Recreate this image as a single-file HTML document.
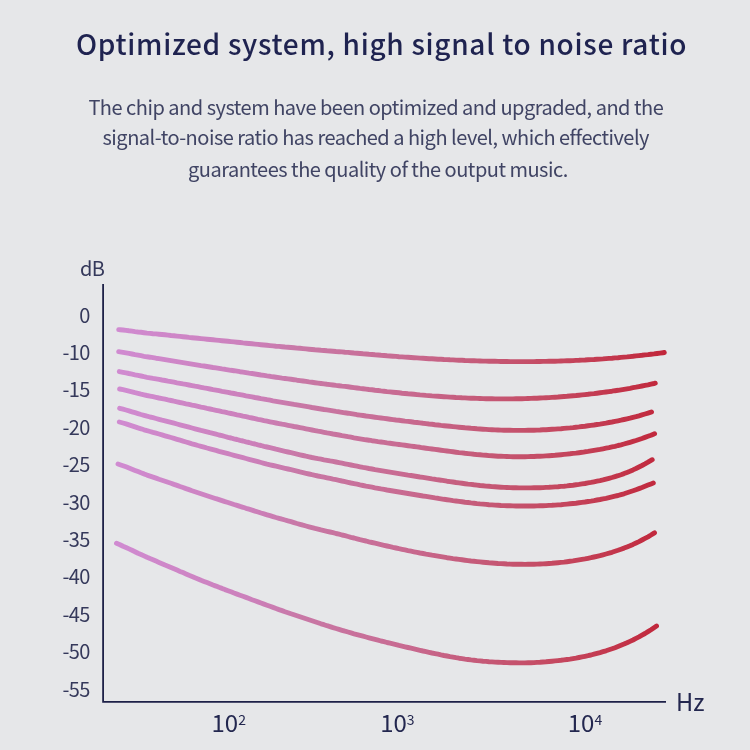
<!DOCTYPE html>
<html><head><meta charset="utf-8"><style>
html,body{margin:0;padding:0;width:750px;height:750px;overflow:hidden;background:#e6e7e9;}
svg{display:block;}
text{font-family:"Noto Sans CJK SC", "Liberation Sans", sans-serif;}
</style></head><body>
<svg width="750" height="750" viewBox="0 0 750 750">
<rect width="750" height="750" fill="#e6e7e9"/>
<text x="76" y="55" font-size="28" font-weight="500" letter-spacing="0.7" fill="#1f2350">Optimized system, high signal to noise ratio</text>
<g font-size="20" fill="#404464" letter-spacing="-0.5">
<text x="88.4" y="114.7">The chip and system have been optimized and upgraded, and the</text>
<text x="102.5" y="145.2">signal-to-noise ratio has reached a high level, which effectively</text>
<text x="188" y="177.1">guarantees the quality of the output music.</text>
</g>
<defs><linearGradient id="g" gradientUnits="userSpaceOnUse" x1="116" y1="0" x2="666" y2="0"><stop offset="0" stop-color="#d08bd1"/><stop offset="0.2436" stop-color="#cc80bb"/><stop offset="0.3345" stop-color="#c878a6"/><stop offset="0.5164" stop-color="#c86b92"/><stop offset="0.6618" stop-color="#c55a78"/><stop offset="0.7891" stop-color="#c54a62"/><stop offset="1" stop-color="#c1263a"/></linearGradient></defs>
<g fill="none" stroke="url(#g)" stroke-width="4.9" stroke-linecap="round" stroke-linejoin="round">
<path d="M118.7 329.6 L120.0 329.7 L123.0 330.0 L126.0 330.4 L129.0 330.8 L132.0 331.1 L135.0 331.6 L138.0 332.0 L141.0 332.3 L144.0 332.7 L147.0 333.1 L150.0 333.4 L153.0 333.7 L156.0 333.9 L159.0 334.2 L162.0 334.5 L165.0 334.8 L168.0 335.1 L171.0 335.5 L174.0 335.8 L177.0 336.1 L180.0 336.4 L183.0 336.7 L186.0 337.0 L189.0 337.4 L192.0 337.7 L195.0 338.0 L198.0 338.3 L201.0 338.6 L204.0 338.9 L207.0 339.2 L210.0 339.5 L213.0 339.8 L216.0 340.1 L219.0 340.4 L222.0 340.7 L225.0 341.0 L228.0 341.3 L231.0 341.6 L234.0 341.9 L237.0 342.2 L240.0 342.5 L243.0 342.9 L246.0 343.2 L249.0 343.5 L252.0 343.8 L255.0 344.1 L258.0 344.4 L261.0 344.7 L264.0 345.0 L267.0 345.3 L270.0 345.6 L273.0 345.9 L276.0 346.2 L279.0 346.4 L282.0 346.7 L285.0 347.0 L288.0 347.2 L291.0 347.5 L294.0 347.8 L297.0 348.1 L300.0 348.3 L303.0 348.6 L306.0 348.9 L309.0 349.2 L312.0 349.5 L315.0 349.8 L318.0 350.0 L321.0 350.3 L324.0 350.5 L327.0 350.8 L330.0 351.0 L333.0 351.2 L336.0 351.5 L339.0 351.7 L342.0 351.9 L345.0 352.2 L348.0 352.4 L351.0 352.7 L354.0 353.0 L357.0 353.2 L360.0 353.5 L363.0 353.8 L366.0 354.0 L369.0 354.3 L372.0 354.5 L375.0 354.8 L378.0 355.0 L381.0 355.3 L384.0 355.5 L387.0 355.8 L390.0 356.0 L393.0 356.2 L396.0 356.4 L399.0 356.7 L402.0 356.9 L405.0 357.1 L408.0 357.3 L411.0 357.5 L414.0 357.7 L417.0 357.9 L420.0 358.1 L423.0 358.3 L426.0 358.5 L429.0 358.7 L432.0 358.8 L435.0 359.0 L438.0 359.2 L441.0 359.3 L444.0 359.5 L447.0 359.6 L450.0 359.8 L453.0 359.9 L456.0 360.1 L459.0 360.2 L462.0 360.3 L465.0 360.5 L468.0 360.6 L471.0 360.7 L474.0 360.8 L477.0 360.9 L480.0 361.0 L483.0 361.1 L486.0 361.1 L489.0 361.2 L492.0 361.3 L495.0 361.3 L498.0 361.4 L501.0 361.5 L504.0 361.5 L507.0 361.5 L510.0 361.6 L513.0 361.6 L516.0 361.6 L519.0 361.6 L522.0 361.6 L525.0 361.6 L528.0 361.6 L531.0 361.6 L534.0 361.6 L537.0 361.5 L540.0 361.5 L543.0 361.4 L546.0 361.4 L549.0 361.3 L552.0 361.3 L555.0 361.2 L558.0 361.1 L561.0 361.0 L564.0 360.9 L567.0 360.8 L570.0 360.7 L573.0 360.6 L576.0 360.4 L579.0 360.3 L582.0 360.1 L585.0 360.0 L588.0 359.8 L591.0 359.6 L594.0 359.5 L597.0 359.3 L600.0 359.1 L603.0 358.9 L606.0 358.6 L609.0 358.4 L612.0 358.2 L615.0 357.9 L618.0 357.7 L621.0 357.4 L624.0 357.1 L627.0 356.9 L630.0 356.6 L633.0 356.3 L636.0 355.9 L639.0 355.6 L642.0 355.3 L645.0 354.9 L648.0 354.6 L651.0 354.2 L654.0 353.9 L657.0 353.5 L660.0 353.1 L663.0 352.7 L664.3 352.5"/><path d="M118.7 351.7 L120.0 351.9 L123.0 352.4 L126.0 352.9 L129.0 353.4 L132.0 354.0 L135.0 354.6 L138.0 355.1 L141.0 355.7 L144.0 356.3 L147.0 356.8 L150.0 357.2 L153.0 357.7 L156.0 358.2 L159.0 358.6 L162.0 359.1 L165.0 359.6 L168.0 360.1 L171.0 360.6 L174.0 361.1 L177.0 361.6 L180.0 362.1 L183.0 362.6 L186.0 363.1 L189.0 363.6 L192.0 364.1 L195.0 364.6 L198.0 365.1 L201.0 365.6 L204.0 366.0 L207.0 366.5 L210.0 367.0 L213.0 367.5 L216.0 367.9 L219.0 368.4 L222.0 368.9 L225.0 369.3 L228.0 369.8 L231.0 370.3 L234.0 370.7 L237.0 371.2 L240.0 371.7 L243.0 372.1 L246.0 372.6 L249.0 373.1 L252.0 373.5 L255.0 374.0 L258.0 374.5 L261.0 375.0 L264.0 375.4 L267.0 375.9 L270.0 376.3 L273.0 376.8 L276.0 377.2 L279.0 377.6 L282.0 378.1 L285.0 378.5 L288.0 378.9 L291.0 379.3 L294.0 379.7 L297.0 380.2 L300.0 380.6 L303.0 381.0 L306.0 381.4 L309.0 381.9 L312.0 382.3 L315.0 382.7 L318.0 383.1 L321.0 383.5 L324.0 383.9 L327.0 384.3 L330.0 384.6 L333.0 385.0 L336.0 385.4 L339.0 385.7 L342.0 386.1 L345.0 386.4 L348.0 386.8 L351.0 387.2 L354.0 387.6 L357.0 388.0 L360.0 388.4 L363.0 388.7 L366.0 389.1 L369.0 389.5 L372.0 389.8 L375.0 390.2 L378.0 390.5 L381.0 390.9 L384.0 391.2 L387.0 391.6 L390.0 391.9 L393.0 392.2 L396.0 392.5 L399.0 392.8 L402.0 393.2 L405.0 393.5 L408.0 393.8 L411.0 394.0 L414.0 394.3 L417.0 394.6 L420.0 394.9 L423.0 395.1 L426.0 395.4 L429.0 395.6 L432.0 395.9 L435.0 396.1 L438.0 396.3 L441.0 396.5 L444.0 396.7 L447.0 396.9 L450.0 397.1 L453.0 397.3 L456.0 397.5 L459.0 397.6 L462.0 397.8 L465.0 397.9 L468.0 398.1 L471.0 398.2 L474.0 398.3 L477.0 398.4 L480.0 398.5 L483.0 398.6 L486.0 398.7 L489.0 398.8 L492.0 398.8 L495.0 398.9 L498.0 398.9 L501.0 398.9 L504.0 398.9 L507.0 398.9 L510.0 398.9 L513.0 398.9 L516.0 398.8 L519.0 398.8 L522.0 398.7 L525.0 398.6 L528.0 398.5 L531.0 398.4 L534.0 398.3 L537.0 398.2 L540.0 398.0 L543.0 397.9 L546.0 397.7 L549.0 397.6 L552.0 397.4 L555.0 397.2 L558.0 397.0 L561.0 396.7 L564.0 396.5 L567.0 396.3 L570.0 396.0 L573.0 395.7 L576.0 395.5 L579.0 395.2 L582.0 394.9 L585.0 394.6 L588.0 394.3 L591.0 393.9 L594.0 393.6 L597.0 393.2 L600.0 392.8 L603.0 392.4 L606.0 392.0 L609.0 391.6 L612.0 391.2 L615.0 390.7 L618.0 390.3 L621.0 389.8 L624.0 389.3 L627.0 388.8 L630.0 388.3 L633.0 387.7 L636.0 387.2 L639.0 386.6 L642.0 386.0 L645.0 385.4 L648.0 384.8 L651.0 384.1 L654.0 383.5 L655.3 383.2"/><path d="M119.3 371.6 L123.0 372.3 L126.0 372.8 L129.0 373.5 L132.0 374.1 L135.0 374.8 L138.0 375.4 L141.0 376.0 L144.0 376.7 L147.0 377.3 L150.0 377.8 L153.0 378.4 L156.0 378.9 L159.0 379.4 L162.0 380.0 L165.0 380.5 L168.0 381.1 L171.0 381.6 L174.0 382.2 L177.0 382.8 L180.0 383.3 L183.0 383.9 L186.0 384.4 L189.0 385.0 L192.0 385.6 L195.0 386.2 L198.0 386.7 L201.0 387.3 L204.0 387.9 L207.0 388.4 L210.0 389.0 L213.0 389.6 L216.0 390.1 L219.0 390.7 L222.0 391.3 L225.0 391.8 L228.0 392.4 L231.0 393.0 L234.0 393.5 L237.0 394.1 L240.0 394.6 L243.0 395.2 L246.0 395.8 L249.0 396.3 L252.0 396.9 L255.0 397.5 L258.0 398.0 L261.0 398.6 L264.0 399.1 L267.0 399.7 L270.0 400.2 L273.0 400.8 L276.0 401.3 L279.0 401.8 L282.0 402.3 L285.0 402.8 L288.0 403.3 L291.0 403.8 L294.0 404.4 L297.0 404.9 L300.0 405.4 L303.0 405.9 L306.0 406.4 L309.0 406.9 L312.0 407.5 L315.0 408.0 L318.0 408.5 L321.0 409.0 L324.0 409.5 L327.0 409.9 L330.0 410.4 L333.0 410.9 L336.0 411.4 L339.0 411.8 L342.0 412.3 L345.0 412.8 L348.0 413.2 L351.0 413.7 L354.0 414.2 L357.0 414.7 L360.0 415.1 L363.0 415.5 L366.0 416.0 L369.0 416.4 L372.0 416.8 L375.0 417.2 L378.0 417.6 L381.0 418.0 L384.0 418.4 L387.0 418.8 L390.0 419.2 L393.0 419.6 L396.0 420.0 L399.0 420.3 L402.0 420.7 L405.0 421.1 L408.0 421.4 L411.0 421.8 L414.0 422.2 L417.0 422.5 L420.0 422.9 L423.0 423.3 L426.0 423.6 L429.0 424.0 L432.0 424.3 L435.0 424.7 L438.0 425.0 L441.0 425.4 L444.0 425.7 L447.0 426.0 L450.0 426.3 L453.0 426.6 L456.0 426.9 L459.0 427.2 L462.0 427.5 L465.0 427.8 L468.0 428.0 L471.0 428.3 L474.0 428.5 L477.0 428.8 L480.0 429.0 L483.0 429.2 L486.0 429.4 L489.0 429.6 L492.0 429.7 L495.0 429.9 L498.0 430.0 L501.0 430.1 L504.0 430.2 L507.0 430.3 L510.0 430.3 L513.0 430.4 L516.0 430.4 L519.0 430.4 L522.0 430.4 L525.0 430.4 L528.0 430.3 L531.0 430.3 L534.0 430.2 L537.0 430.1 L540.0 430.0 L543.0 429.8 L546.0 429.7 L549.0 429.5 L552.0 429.3 L555.0 429.1 L558.0 428.9 L561.0 428.7 L564.0 428.4 L567.0 428.1 L570.0 427.9 L573.0 427.6 L576.0 427.2 L579.0 426.9 L582.0 426.5 L585.0 426.2 L588.0 425.8 L591.0 425.4 L594.0 425.0 L597.0 424.5 L600.0 424.1 L603.0 423.6 L606.0 423.1 L609.0 422.5 L612.0 422.0 L615.0 421.4 L618.0 420.8 L621.0 420.2 L624.0 419.5 L627.0 418.8 L630.0 418.1 L633.0 417.3 L636.0 416.6 L639.0 415.8 L642.0 414.9 L645.0 414.0 L648.0 413.1 L651.0 412.2 L651.5 412.0"/><path d="M119.6 389.0 L123.0 389.7 L126.0 390.4 L129.0 391.1 L132.0 391.8 L135.0 392.6 L138.0 393.3 L141.0 394.1 L144.0 394.8 L147.0 395.5 L150.0 396.1 L153.0 396.7 L156.0 397.3 L159.0 398.0 L162.0 398.6 L165.0 399.2 L168.0 399.9 L171.0 400.5 L174.0 401.2 L177.0 401.8 L180.0 402.5 L183.0 403.1 L186.0 403.8 L189.0 404.4 L192.0 405.1 L195.0 405.7 L198.0 406.4 L201.0 407.1 L204.0 407.7 L207.0 408.4 L210.0 409.0 L213.0 409.7 L216.0 410.3 L219.0 410.9 L222.0 411.6 L225.0 412.2 L228.0 412.9 L231.0 413.5 L234.0 414.1 L237.0 414.8 L240.0 415.4 L243.0 416.1 L246.0 416.7 L249.0 417.4 L252.0 418.0 L255.0 418.6 L258.0 419.3 L261.0 419.9 L264.0 420.6 L267.0 421.2 L270.0 421.8 L273.0 422.4 L276.0 423.0 L279.0 423.6 L282.0 424.2 L285.0 424.7 L288.0 425.3 L291.0 425.9 L294.0 426.5 L297.0 427.0 L300.0 427.6 L303.0 428.2 L306.0 428.8 L309.0 429.4 L312.0 430.0 L315.0 430.6 L318.0 431.2 L321.0 431.7 L324.0 432.3 L327.0 432.9 L330.0 433.4 L333.0 434.0 L336.0 434.5 L339.0 435.0 L342.0 435.6 L345.0 436.1 L348.0 436.7 L351.0 437.2 L354.0 437.8 L357.0 438.3 L360.0 438.8 L363.0 439.3 L366.0 439.8 L369.0 440.2 L372.0 440.7 L375.0 441.1 L378.0 441.6 L381.0 442.0 L384.0 442.4 L387.0 442.9 L390.0 443.3 L393.0 443.7 L396.0 444.1 L399.0 444.5 L402.0 444.9 L405.0 445.3 L408.0 445.7 L411.0 446.1 L414.0 446.5 L417.0 446.9 L420.0 447.3 L423.0 447.8 L426.0 448.2 L429.0 448.6 L432.0 449.0 L435.0 449.4 L438.0 449.8 L441.0 450.2 L444.0 450.6 L447.0 451.0 L450.0 451.4 L453.0 451.8 L456.0 452.2 L459.0 452.6 L462.0 452.9 L465.0 453.3 L468.0 453.6 L471.0 453.9 L474.0 454.3 L477.0 454.6 L480.0 454.8 L483.0 455.1 L486.0 455.3 L489.0 455.6 L492.0 455.8 L495.0 456.0 L498.0 456.2 L501.0 456.3 L504.0 456.4 L507.0 456.5 L510.0 456.6 L513.0 456.7 L516.0 456.7 L519.0 456.7 L522.0 456.7 L525.0 456.7 L528.0 456.6 L531.0 456.5 L534.0 456.5 L537.0 456.3 L540.0 456.2 L543.0 456.1 L546.0 455.9 L549.0 455.7 L552.0 455.5 L555.0 455.3 L558.0 455.0 L561.0 454.7 L564.0 454.4 L567.0 454.1 L570.0 453.8 L573.0 453.4 L576.0 453.1 L579.0 452.7 L582.0 452.3 L585.0 451.8 L588.0 451.4 L591.0 450.9 L594.0 450.4 L597.0 449.9 L600.0 449.4 L603.0 448.8 L606.0 448.2 L609.0 447.6 L612.0 446.9 L615.0 446.3 L618.0 445.5 L621.0 444.8 L624.0 444.0 L627.0 443.2 L630.0 442.3 L633.0 441.4 L636.0 440.5 L639.0 439.5 L642.0 438.5 L645.0 437.4 L648.0 436.3 L651.0 435.2 L654.0 433.9 L654.6 433.7"/><path d="M119.6 408.3 L123.0 409.2 L126.0 410.0 L129.0 410.9 L132.0 411.8 L135.0 412.7 L138.0 413.6 L141.0 414.5 L144.0 415.3 L147.0 416.2 L150.0 417.0 L153.0 417.7 L156.0 418.5 L159.0 419.3 L162.0 420.1 L165.0 420.8 L168.0 421.6 L171.0 422.4 L174.0 423.2 L177.0 424.0 L180.0 424.8 L183.0 425.6 L186.0 426.4 L189.0 427.2 L192.0 428.0 L195.0 428.8 L198.0 429.6 L201.0 430.4 L204.0 431.1 L207.0 431.9 L210.0 432.7 L213.0 433.4 L216.0 434.2 L219.0 435.0 L222.0 435.7 L225.0 436.5 L228.0 437.3 L231.0 438.0 L234.0 438.8 L237.0 439.5 L240.0 440.3 L243.0 441.0 L246.0 441.8 L249.0 442.5 L252.0 443.3 L255.0 444.0 L258.0 444.8 L261.0 445.5 L264.0 446.3 L267.0 447.0 L270.0 447.7 L273.0 448.4 L276.0 449.2 L279.0 449.9 L282.0 450.6 L285.0 451.3 L288.0 452.0 L291.0 452.7 L294.0 453.4 L297.0 454.1 L300.0 454.8 L303.0 455.5 L306.0 456.2 L309.0 456.8 L312.0 457.5 L315.0 458.1 L318.0 458.7 L321.0 459.2 L324.0 459.8 L327.0 460.3 L330.0 460.9 L333.0 461.4 L336.0 462.0 L339.0 462.6 L342.0 463.2 L345.0 463.8 L348.0 464.4 L351.0 465.0 L354.0 465.6 L357.0 466.2 L360.0 466.8 L363.0 467.4 L366.0 467.9 L369.0 468.5 L372.0 469.0 L375.0 469.6 L378.0 470.1 L381.0 470.6 L384.0 471.1 L387.0 471.6 L390.0 472.1 L393.0 472.6 L396.0 473.1 L399.0 473.6 L402.0 474.1 L405.0 474.6 L408.0 475.1 L411.0 475.5 L414.0 476.0 L417.0 476.5 L420.0 477.0 L423.0 477.4 L426.0 477.9 L429.0 478.4 L432.0 478.9 L435.0 479.3 L438.0 479.8 L441.0 480.2 L444.0 480.7 L447.0 481.2 L450.0 481.6 L453.0 482.0 L456.0 482.5 L459.0 482.9 L462.0 483.3 L465.0 483.7 L468.0 484.1 L471.0 484.4 L474.0 484.8 L477.0 485.1 L480.0 485.5 L483.0 485.8 L486.0 486.1 L489.0 486.3 L492.0 486.6 L495.0 486.8 L498.0 487.0 L501.0 487.2 L504.0 487.4 L507.0 487.5 L510.0 487.6 L513.0 487.7 L516.0 487.8 L519.0 487.9 L522.0 487.9 L525.0 487.9 L528.0 487.9 L531.0 487.9 L534.0 487.8 L537.0 487.8 L540.0 487.7 L543.0 487.6 L546.0 487.4 L549.0 487.3 L552.0 487.1 L555.0 486.9 L558.0 486.7 L561.0 486.4 L564.0 486.2 L567.0 485.9 L570.0 485.5 L573.0 485.2 L576.0 484.8 L579.0 484.4 L582.0 483.9 L585.0 483.5 L588.0 482.9 L591.0 482.4 L594.0 481.8 L597.0 481.2 L600.0 480.6 L603.0 479.9 L606.0 479.1 L609.0 478.3 L612.0 477.5 L615.0 476.6 L618.0 475.7 L621.0 474.7 L624.0 473.6 L627.0 472.4 L630.0 471.2 L633.0 469.9 L636.0 468.5 L639.0 467.0 L642.0 465.5 L645.0 463.9 L648.0 462.2 L651.0 460.4 L652.2 459.7"/><path d="M119.3 422.0 L123.0 423.0 L126.0 423.9 L129.0 424.9 L132.0 425.9 L135.0 426.9 L138.0 427.9 L141.0 428.8 L144.0 429.8 L147.0 430.7 L150.0 431.5 L153.0 432.4 L156.0 433.2 L159.0 434.0 L162.0 434.9 L165.0 435.8 L168.0 436.7 L171.0 437.5 L174.0 438.4 L177.0 439.3 L180.0 440.2 L183.0 441.1 L186.0 442.0 L189.0 442.9 L192.0 443.8 L195.0 444.6 L198.0 445.5 L201.0 446.3 L204.0 447.1 L207.0 448.0 L210.0 448.8 L213.0 449.6 L216.0 450.4 L219.0 451.3 L222.0 452.1 L225.0 452.9 L228.0 453.7 L231.0 454.5 L234.0 455.3 L237.0 456.1 L240.0 456.9 L243.0 457.7 L246.0 458.5 L249.0 459.3 L252.0 460.1 L255.0 460.9 L258.0 461.7 L261.0 462.5 L264.0 463.3 L267.0 464.1 L270.0 464.8 L273.0 465.5 L276.0 466.2 L279.0 466.9 L282.0 467.6 L285.0 468.3 L288.0 469.0 L291.0 469.7 L294.0 470.4 L297.0 471.1 L300.0 471.9 L303.0 472.6 L306.0 473.3 L309.0 474.0 L312.0 474.7 L315.0 475.3 L318.0 476.0 L321.0 476.6 L324.0 477.2 L327.0 477.8 L330.0 478.4 L333.0 479.1 L336.0 479.7 L339.0 480.3 L342.0 481.0 L345.0 481.6 L348.0 482.3 L351.0 483.0 L354.0 483.6 L357.0 484.2 L360.0 484.9 L363.0 485.5 L366.0 486.1 L369.0 486.6 L372.0 487.2 L375.0 487.8 L378.0 488.3 L381.0 488.9 L384.0 489.4 L387.0 490.0 L390.0 490.5 L393.0 491.0 L396.0 491.5 L399.0 492.0 L402.0 492.5 L405.0 493.0 L408.0 493.5 L411.0 494.0 L414.0 494.5 L417.0 495.0 L420.0 495.5 L423.0 496.0 L426.0 496.4 L429.0 496.9 L432.0 497.4 L435.0 497.9 L438.0 498.3 L441.0 498.8 L444.0 499.3 L447.0 499.7 L450.0 500.1 L453.0 500.6 L456.0 501.0 L459.0 501.4 L462.0 501.8 L465.0 502.2 L468.0 502.5 L471.0 502.9 L474.0 503.2 L477.0 503.6 L480.0 503.9 L483.0 504.1 L486.0 504.4 L489.0 504.7 L492.0 504.9 L495.0 505.1 L498.0 505.3 L501.0 505.5 L504.0 505.6 L507.0 505.7 L510.0 505.8 L513.0 505.9 L516.0 506.0 L519.0 506.0 L522.0 506.0 L525.0 506.0 L528.0 506.0 L531.0 506.0 L534.0 506.0 L537.0 505.9 L540.0 505.8 L543.0 505.7 L546.0 505.6 L549.0 505.4 L552.0 505.3 L555.0 505.1 L558.0 504.9 L561.0 504.7 L564.0 504.4 L567.0 504.1 L570.0 503.8 L573.0 503.5 L576.0 503.2 L579.0 502.8 L582.0 502.4 L585.0 502.0 L588.0 501.5 L591.0 501.1 L594.0 500.6 L597.0 500.0 L600.0 499.5 L603.0 498.9 L606.0 498.3 L609.0 497.6 L612.0 496.9 L615.0 496.2 L618.0 495.5 L621.0 494.6 L624.0 493.8 L627.0 492.8 L630.0 491.8 L633.0 490.8 L636.0 489.7 L639.0 488.6 L642.0 487.5 L645.0 486.3 L648.0 485.1 L651.0 483.9 L653.3 483.0"/><path d="M118.0 464.0 L120.0 464.7 L123.0 465.7 L126.0 466.8 L129.0 468.0 L132.0 469.2 L135.0 470.4 L138.0 471.6 L141.0 472.8 L144.0 473.9 L147.0 475.1 L150.0 476.1 L153.0 477.1 L156.0 478.1 L159.0 479.2 L162.0 480.2 L165.0 481.2 L168.0 482.3 L171.0 483.3 L174.0 484.4 L177.0 485.4 L180.0 486.5 L183.0 487.5 L186.0 488.6 L189.0 489.6 L192.0 490.7 L195.0 491.7 L198.0 492.7 L201.0 493.7 L204.0 494.7 L207.0 495.7 L210.0 496.7 L213.0 497.7 L216.0 498.7 L219.0 499.6 L222.0 500.6 L225.0 501.6 L228.0 502.5 L231.0 503.5 L234.0 504.5 L237.0 505.4 L240.0 506.4 L243.0 507.3 L246.0 508.3 L249.0 509.2 L252.0 510.1 L255.0 511.1 L258.0 512.0 L261.0 513.0 L264.0 513.9 L267.0 514.8 L270.0 515.7 L273.0 516.6 L276.0 517.5 L279.0 518.3 L282.0 519.2 L285.0 520.0 L288.0 520.9 L291.0 521.7 L294.0 522.6 L297.0 523.5 L300.0 524.3 L303.0 525.2 L306.0 526.0 L309.0 526.8 L312.0 527.6 L315.0 528.4 L318.0 529.1 L321.0 529.9 L324.0 530.6 L327.0 531.3 L330.0 532.0 L333.0 532.7 L336.0 533.5 L339.0 534.2 L342.0 535.0 L345.0 535.7 L348.0 536.5 L351.0 537.3 L354.0 538.0 L357.0 538.8 L360.0 539.6 L363.0 540.3 L366.0 541.0 L369.0 541.8 L372.0 542.5 L375.0 543.2 L378.0 543.9 L381.0 544.6 L384.0 545.3 L387.0 546.0 L390.0 546.7 L393.0 547.4 L396.0 548.0 L399.0 548.7 L402.0 549.3 L405.0 549.9 L408.0 550.6 L411.0 551.2 L414.0 551.8 L417.0 552.4 L420.0 553.0 L423.0 553.5 L426.0 554.1 L429.0 554.6 L432.0 555.2 L435.0 555.7 L438.0 556.2 L441.0 556.7 L444.0 557.2 L447.0 557.7 L450.0 558.1 L453.0 558.6 L456.0 559.0 L459.0 559.4 L462.0 559.8 L465.0 560.2 L468.0 560.6 L471.0 561.0 L474.0 561.3 L477.0 561.6 L480.0 561.9 L483.0 562.2 L486.0 562.5 L489.0 562.8 L492.0 563.0 L495.0 563.2 L498.0 563.5 L501.0 563.6 L504.0 563.8 L507.0 564.0 L510.0 564.1 L513.0 564.2 L516.0 564.3 L519.0 564.3 L522.0 564.3 L525.0 564.4 L528.0 564.3 L531.0 564.3 L534.0 564.2 L537.0 564.1 L540.0 564.0 L543.0 563.9 L546.0 563.7 L549.0 563.5 L552.0 563.3 L555.0 563.0 L558.0 562.7 L561.0 562.4 L564.0 562.1 L567.0 561.7 L570.0 561.3 L573.0 560.9 L576.0 560.4 L579.0 559.9 L582.0 559.4 L585.0 558.9 L588.0 558.3 L591.0 557.7 L594.0 557.0 L597.0 556.3 L600.0 555.6 L603.0 554.8 L606.0 554.0 L609.0 553.2 L612.0 552.3 L615.0 551.3 L618.0 550.3 L621.0 549.2 L624.0 548.1 L627.0 546.9 L630.0 545.7 L633.0 544.4 L636.0 543.0 L639.0 541.6 L642.0 540.0 L645.0 538.4 L648.0 536.8 L651.0 535.0 L654.0 533.1 L654.5 532.8"/><path d="M116.5 543.3 L120.0 544.8 L123.0 546.2 L126.0 547.5 L129.0 548.9 L132.0 550.3 L135.0 551.7 L138.0 553.2 L141.0 554.5 L144.0 555.9 L147.0 557.3 L150.0 558.6 L153.0 559.8 L156.0 561.1 L159.0 562.4 L162.0 563.7 L165.0 565.0 L168.0 566.2 L171.0 567.5 L174.0 568.8 L177.0 570.1 L180.0 571.4 L183.0 572.6 L186.0 573.9 L189.0 575.2 L192.0 576.4 L195.0 577.7 L198.0 578.9 L201.0 580.2 L204.0 581.4 L207.0 582.6 L210.0 583.8 L213.0 585.0 L216.0 586.1 L219.0 587.3 L222.0 588.4 L225.0 589.6 L228.0 590.7 L231.0 591.8 L234.0 593.0 L237.0 594.1 L240.0 595.2 L243.0 596.3 L246.0 597.4 L249.0 598.5 L252.0 599.7 L255.0 600.8 L258.0 601.9 L261.0 603.0 L264.0 604.1 L267.0 605.2 L270.0 606.3 L273.0 607.4 L276.0 608.5 L279.0 609.6 L282.0 610.6 L285.0 611.7 L288.0 612.7 L291.0 613.8 L294.0 614.8 L297.0 615.8 L300.0 616.8 L303.0 617.8 L306.0 618.8 L309.0 619.8 L312.0 620.8 L315.0 621.8 L318.0 622.8 L321.0 623.8 L324.0 624.7 L327.0 625.7 L330.0 626.6 L333.0 627.6 L336.0 628.5 L339.0 629.4 L342.0 630.3 L345.0 631.2 L348.0 632.0 L351.0 632.9 L354.0 633.8 L357.0 634.6 L360.0 635.4 L363.0 636.2 L366.0 637.0 L369.0 637.8 L372.0 638.6 L375.0 639.4 L378.0 640.2 L381.0 641.0 L384.0 641.7 L387.0 642.5 L390.0 643.2 L393.0 643.9 L396.0 644.6 L399.0 645.4 L402.0 646.1 L405.0 646.8 L408.0 647.5 L411.0 648.2 L414.0 648.9 L417.0 649.6 L420.0 650.3 L423.0 651.0 L426.0 651.6 L429.0 652.3 L432.0 653.0 L435.0 653.6 L438.0 654.2 L441.0 654.9 L444.0 655.5 L447.0 656.0 L450.0 656.6 L453.0 657.1 L456.0 657.7 L459.0 658.2 L462.0 658.6 L465.0 659.1 L468.0 659.5 L471.0 659.9 L474.0 660.2 L477.0 660.6 L480.0 660.9 L483.0 661.2 L486.0 661.4 L489.0 661.7 L492.0 661.9 L495.0 662.1 L498.0 662.2 L501.0 662.4 L504.0 662.5 L507.0 662.6 L510.0 662.7 L513.0 662.8 L516.0 662.8 L519.0 662.9 L522.0 662.9 L525.0 662.9 L528.0 662.8 L531.0 662.7 L534.0 662.6 L537.0 662.4 L540.0 662.3 L543.0 662.0 L546.0 661.8 L549.0 661.5 L552.0 661.2 L555.0 660.9 L558.0 660.6 L561.0 660.3 L564.0 659.9 L567.0 659.5 L570.0 659.1 L573.0 658.6 L576.0 658.1 L579.0 657.5 L582.0 656.9 L585.0 656.3 L588.0 655.7 L591.0 655.0 L594.0 654.2 L597.0 653.4 L600.0 652.6 L603.0 651.7 L606.0 650.8 L609.0 649.8 L612.0 648.8 L615.0 647.7 L618.0 646.5 L621.0 645.3 L624.0 644.1 L627.0 642.8 L630.0 641.4 L633.0 640.0 L636.0 638.4 L639.0 636.9 L642.0 635.2 L645.0 633.5 L648.0 631.6 L651.0 629.7 L654.0 627.7 L656.5 626.0"/>
</g>
<path d="M103.1 284.1 V701.9 H666" fill="none" stroke="#1e2148" stroke-width="1.8"/>
<g font-size="20" fill="#35395b" letter-spacing="-0.7">
<text x="104.5" y="276.1" text-anchor="end" letter-spacing="-0.5">dB</text>
<text x="89.6" y="322.5" text-anchor="end">0</text><text x="89.6" y="359.9" text-anchor="end">-10</text><text x="89.6" y="397.3" text-anchor="end">-15</text><text x="89.6" y="434.8" text-anchor="end">-20</text><text x="89.6" y="472.2" text-anchor="end">-25</text><text x="89.6" y="509.6" text-anchor="end">-30</text><text x="89.6" y="547.0" text-anchor="end">-35</text><text x="89.6" y="584.4" text-anchor="end">-40</text><text x="89.6" y="621.9" text-anchor="end">-45</text><text x="89.6" y="659.3" text-anchor="end">-50</text><text x="89.6" y="696.7" text-anchor="end">-55</text>
</g>
<g font-size="24" fill="#23274f">
<text x="676" y="710.5" font-size="23.6">Hz</text>
<text x="211.5" y="731.7">10<tspan font-size="14" dx="0" dy="-7">2</tspan></text>
<text x="380.2" y="731.7">10<tspan font-size="14" dx="0" dy="-7">3</tspan></text>
<text x="567.8" y="731.7">10<tspan font-size="14" dx="0" dy="-7">4</tspan></text>
</g>
</svg>
</body></html>
